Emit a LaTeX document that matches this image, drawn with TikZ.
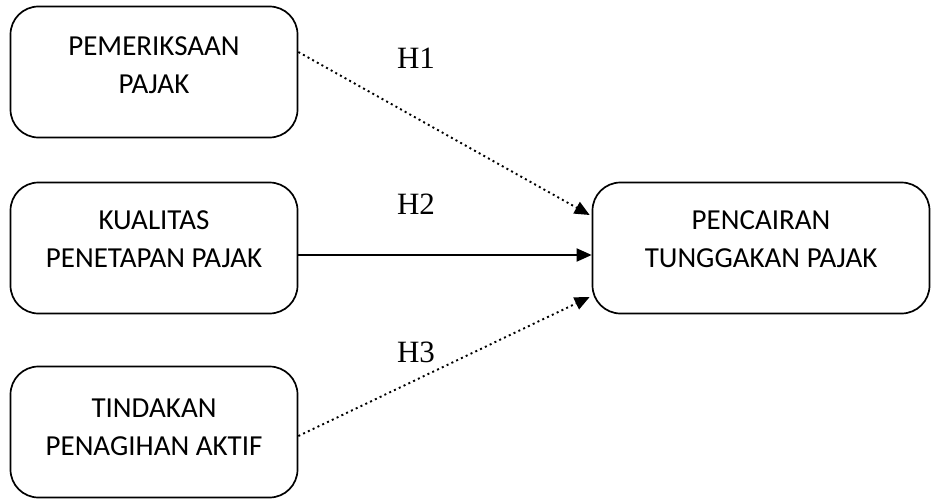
\documentclass[tikz,border=0pt]{standalone}
\usepackage{fontspec}
\setmainfont{Carlito}
\newfontfamily\hfont{Liberation Serif}
\usetikzlibrary{arrows.meta}
\begin{document}
\begin{tikzpicture}[x=1pt,y=-1pt,
  box/.style={draw,line width=1.7pt,rounded corners=28pt,minimum width=287pt,minimum height=131pt,inner sep=0pt},
  boxtext/.style={align=center,font=\fontsize{29}{38}\selectfont},
  hlab/.style={font=\hfont\fontsize{31}{31}\selectfont},
  con/.style={line width=1.9pt,-{Triangle[length=15pt,width=13pt]}},
  dots/.style={dash pattern=on 2pt off 3.3pt}]
\useasboundingbox (0,0) rectangle (933,500);
\node[box] (a) at (154,72) {};
\node[box] (b) at (154,248) {};
\node[box] (c) at (154,432) {};
\node[box,minimum width=337pt] (e) at (761,248) {};
\node[boxtext] (at) at (154,65) {PEMERIKSAAN\\PAJAK};
\node[boxtext] (bt) at (154,239) {KUALITAS\\PENETAPAN PAJAK};
\node[boxtext] (ct) at (154,427) {TINDAKAN\\PENAGIHAN AKTIF};
\node[boxtext] (et) at (761,239) {PENCAIRAN\\TUNGGAKAN PAJAK};
\node[hlab] (h1) at (416,58) {H1};
\node[hlab] (h2) at (416,204) {H2};
\node[hlab] (h3) at (416,352) {H3};
\draw[con,dots] ([yshift=20pt]a.east) -- ([xshift=-2pt,yshift=33pt]e.west);
\draw[con] ([yshift=-7pt]b.east) -- ([yshift=-7pt]e.west);
\draw[con,dots] ([yshift=-4pt]c.east) -- ([xshift=-2pt,yshift=-49pt]e.west);
\end{tikzpicture}
\end{document}
